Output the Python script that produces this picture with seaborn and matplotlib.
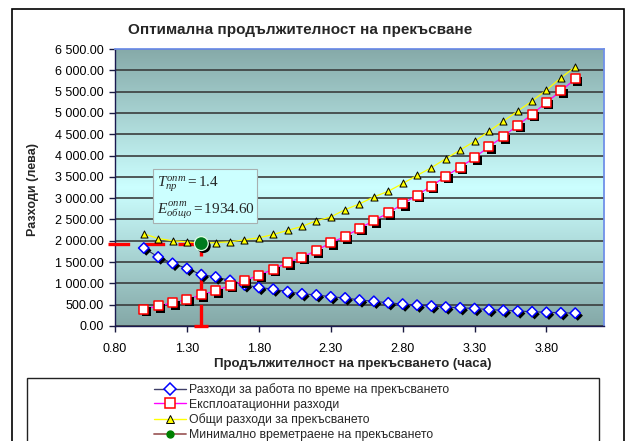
import numpy as np
import pandas as pd
import matplotlib
matplotlib.use("Agg")
import matplotlib.pyplot as plt
import seaborn as sns
from matplotlib.patches import Rectangle
from matplotlib.lines import Line2D
from matplotlib import patheffects as pe
from matplotlib.ticker import FuncFormatter, FixedLocator, MultipleLocator
from matplotlib.colors import LinearSegmentedColormap

# ---------------- data ----------------
duration = [1.0, 1.1, 1.2, 1.3, 1.4, 1.5, 1.6, 1.7, 1.8, 1.9, 2.0,
            2.1, 2.2, 2.3, 2.4, 2.5, 2.6, 2.7, 2.8, 2.9, 3.0,
            3.1, 3.2, 3.3, 3.4, 3.5, 3.6, 3.7, 3.8, 3.9, 4.0]
work_costs = [1830, 1620, 1470, 1350, 1205, 1150, 1070, 965, 905, 865, 805,
              755, 730, 685, 660, 610, 580, 545, 515, 490, 470,
              445, 428, 410, 385, 368, 352, 335, 322, 310, 302]
exploitation_costs = [394, 470, 543, 622, 730, 826, 955, 1062, 1195, 1330, 1485,
                      1614, 1770, 1955, 2100, 2290, 2475, 2652, 2865, 3070, 3281,
                      3517, 3725, 3951, 4210, 4446, 4713, 4965, 5249, 5515, 5798]
total_costs = [2164, 2053, 2000, 1975, 1934.6, 1959, 1975, 2022, 2070, 2148, 2243,
               2337, 2471, 2558, 2731, 2865, 3030, 3162, 3344, 3533, 3715,
               3927, 4130, 4335, 4571, 4807, 5043, 5279, 5539, 5822, 6082]
opt_duration = [1.4]
opt_total = [1934.60]
opt_x_offset = [0.65]
x_ticks = [0.80, 1.30, 1.80, 2.30, 2.80, 3.30, 3.80]

labels = ["Разходи за работа по време на прекъсването",
          "Експлоатационни разходи",
          "Общи разходи за прекъсването",
          "Минимално времетраене на прекъсването"]
title = "Оптимална продължителност на прекъсване"
xlabel = "Продължителност на прекъсването (часа)"
ylabel = "Разходи (лева)"

df = pd.DataFrame({"T": duration, "work": work_costs,
                   "expl": exploitation_costs, "total": total_costs})

# ---------------- style ----------------
sns.set_style("white")
plt.rcParams["font.family"] = ["Liberation Sans", "DejaVu Sans"]
plt.rcParams["mathtext.fontset"] = "custom"
plt.rcParams["mathtext.rm"] = "Liberation Serif"
plt.rcParams["mathtext.it"] = "Liberation Serif:italic"
plt.rcParams["mathtext.bf"] = "Liberation Serif:bold"

W, H = 628, 441
fig = plt.figure(figsize=(W / 100, H / 100), dpi=100)
fig.patch.set_facecolor("white")

L, R, T_, B = 115, 604, 49, 326
ax = fig.add_axes([L / W, 1 - B / H, (R - L) / W, (B - T_) / H])
ax.set_facecolor("none")

# gradient background (dark edges, light cyan centre)
cmap = LinearSegmentedColormap.from_list(
    "bg", [(0.0, "#86aaa9"), (0.5, "#ccffff"), (1.0, "#84a8a7")])
grad = np.linspace(0, 1, 256).reshape(-1, 1)
ax.imshow(grad, cmap=cmap, aspect="auto", extent=[0, 1, 0, 1],
          transform=ax.transAxes, zorder=0, interpolation="bicubic")

shadow = [pe.SimplePatchShadow(offset=(1.8, -1.8), shadow_rgbFace="black",
                               alpha=1.0), pe.Normal()]

# lines
sns.lineplot(data=df, x="T", y="work", ax=ax, color="#2b2b5e", lw=0.8,
             zorder=3, legend=False)
sns.lineplot(data=df, x="T", y="expl", ax=ax, color="#ff00ff", lw=0.9,
             zorder=3, legend=False)
sns.lineplot(data=df, x="T", y="total", ax=ax, color="#ffff00", lw=0.9,
             zorder=3, legend=False)

# optimum error bars (red dashed)
dash = (0, (6.5, 4))
eb1 = ax.errorbar(opt_duration, opt_total, xerr=[opt_x_offset, [0]],
                  fmt="none", ecolor="#ff0000", elinewidth=2.4, capsize=0,
                  zorder=4, clip_on=False)
eb1[2][0].set_linestyle(dash)
eb1[2][0].set_clip_on(False)
eb2 = ax.errorbar(opt_duration, opt_total, yerr=[opt_total, [0]],
                  fmt="none", ecolor="#ff0000", elinewidth=2.4, capsize=5,
                  capthick=2.4, zorder=4, clip_on=False)
eb2[2][0].set_linestyle(dash)
for c in eb2[1]:
    c.set_clip_on(False)
eb2[2][0].set_clip_on(False)

# markers
sns.scatterplot(data=df, x="T", y="work", ax=ax, marker="D", s=28,
                facecolor="white", edgecolor="#0000ff", linewidth=1.1,
                zorder=5, path_effects=shadow, legend=False)
sns.scatterplot(data=df, x="T", y="expl", ax=ax, marker="s", s=42,
                facecolor="white", edgecolor="#ff0000", linewidth=1.1,
                zorder=5, path_effects=shadow, legend=False)
sns.scatterplot(data=df, x="T", y="total", ax=ax, marker="^", s=26,
                facecolor="#ffff00", edgecolor="black", linewidth=0.7,
                zorder=6, legend=False)
sns.scatterplot(x=opt_duration, y=opt_total, ax=ax, marker="o", s=100,
                facecolor="#007a1f", edgecolor="#dfffe8", linewidth=0.9,
                zorder=7, path_effects=shadow, legend=False)

# axes
ax.set_xlim(0.8, 4.2)
ax.set_ylim(0, 6500)
ax.xaxis.set_major_locator(FixedLocator(x_ticks))
ax.xaxis.set_major_formatter(FuncFormatter(lambda v, p: f"{v:.2f}"))
ax.yaxis.set_major_locator(MultipleLocator(500))
ax.yaxis.set_major_formatter(
    FuncFormatter(lambda v, p: f"{v:,.2f}".replace(",", " ")))
ax.set_xlabel("")
ax.set_ylabel("")
ax.grid(axis="y", color="#3a3d3d", lw=1.2)
ax.grid(axis="x", visible=False)
ax.set_axisbelow(True)
ax.tick_params(axis="both", direction="out", length=4, width=1,
               color="#1a1a40", labelsize=9, labelcolor="black",
               left=True, bottom=True)
ax.tick_params(axis="y", pad=4)
ax.tick_params(axis="x", pad=8)
for s in ["left", "bottom"]:
    ax.spines[s].set_color("#1a1a50")
    ax.spines[s].set_linewidth(1.0)
for s in ["top", "right"]:
    ax.spines[s].set_color("#7090e8")
    ax.spines[s].set_linewidth(1.3)
    ax.spines[s].set_visible(True)

# annotation box
ax.add_patch(Rectangle((0.078, 0.372), 0.212, 0.195, transform=ax.transAxes,
                       facecolor="#ccffff", edgecolor="#a8b0b0", lw=0.8,
                       zorder=8))
ax.text(0.085, 0.51, r"$T_{пр}^{опт} = 1.4$", transform=ax.transAxes,
        fontsize=11, va="center", ha="left", zorder=9)
ax.text(0.085, 0.415, r"$E_{общо}^{опт} = 1934.60$", transform=ax.transAxes,
        fontsize=11, va="center", ha="left", zorder=9)

# figure texts
fig.text(300 / W, 1 - 30 / H, title, ha="center", va="center",
         fontsize=11, fontweight="bold")
fig.text(33 / W, 1 - 190 / H, ylabel, ha="center", va="center",
         rotation=90, fontsize=9, fontweight="bold")
fig.text(353 / W, 1 - 364 / H, xlabel, ha="center", va="center",
         fontsize=9.5, fontweight="bold")

# chart border
fig.add_artist(Rectangle((12 / W, -0.05), (624 - 12) / W, 1.05 - 9 / H,
                         transform=fig.transFigure, fill=False,
                         edgecolor="black", lw=1.2))
# legend box
fig.add_artist(Rectangle((27 / W, -0.05), (599 - 27) / W,
                         0.05 + (H - 378) / H, transform=fig.transFigure,
                         fill=False, edgecolor="#222222", lw=1.0))

handles = [
    Line2D([], [], color="#404068", lw=1, marker="D", ms=6,
           mfc="white", mec="#0000ff", mew=1.1),
    Line2D([], [], color="#ff00ff", lw=1, marker="s", ms=7,
           mfc="white", mec="#ff0000", mew=1.1),
    Line2D([], [], color="#ffff00", lw=1, marker="^", ms=5.5,
           mfc="#ffff00", mec="black", mew=0.7),
    Line2D([], [], color="#a06060", lw=1.3, marker="o", ms=5,
           mfc="#008000", mec="#008000"),
]
fig.legend(handles, labels, loc="upper left",
           bbox_to_anchor=(154 / W, 1 - 383 / H), frameon=False,
           fontsize=8.8, handlelength=2.6, handletextpad=0.3,
           labelspacing=0.22, borderpad=0, borderaxespad=0)

fig.savefig("out.png", dpi=100)
